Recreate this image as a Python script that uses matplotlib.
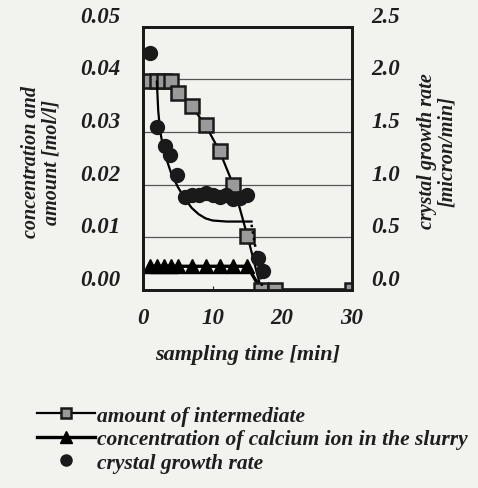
import matplotlib
matplotlib.use('Agg')
import matplotlib.pyplot as plt

plt.rcParams['font.family'] = 'Liberation Serif'
plt.rcParams['font.weight'] = 'bold'
plt.rcParams['font.style'] = 'italic'
plt.rcParams['axes.labelweight'] = 'bold'

# amount of intermediate (left axis, mol/l)
t_inter = [1, 2, 3, 4, 5, 7, 9, 11, 13, 15, 17, 19, 30]
amount_inter = [0.0397, 0.0397, 0.0397, 0.0397, 0.0374, 0.0349, 0.0313,
                0.0264, 0.0199, 0.0103, 0.0, 0.0, 0.0]

# calcium ion concentration in the slurry (left axis, mol/l)
t_ca = [1, 2, 3, 4, 5, 7, 9, 11, 13, 15, 17, 19, 30]
conc_ca = [0.0045, 0.0045, 0.0045, 0.0045, 0.0045, 0.0045, 0.0045, 0.0045,
           0.0045, 0.0045, 0.0, 0.0, 0.0]

# crystal growth rate (right axis, micron/min)
t_growth = [1, 2, 3.2, 3.9, 4.9, 6, 7, 8, 9, 10, 11, 12, 13, 14, 15, 16.5, 17.3]
growth = [2.25, 1.55, 1.37, 1.28, 1.09, 0.88, 0.90, 0.90, 0.92, 0.90, 0.88,
          0.90, 0.86, 0.87, 0.90, 0.30, 0.18]

# fitted curve for the growth rate
t_fit = [2.0, 2.2, 2.5, 3, 4, 5, 6, 7, 8, 9, 10, 12, 14, 15.6]
growth_fit = [1.98, 1.70, 1.50, 1.32, 1.12, 0.98, 0.87, 0.78, 0.72, 0.68,
              0.66, 0.65, 0.65, 0.65]
t_fit_tail = [15.6, 17.2]
growth_fit_tail = [0.62, 0.0]

text_col = '#1e1e1e'
bg = '#f2f2ef'
font = dict(family='Liberation Serif', weight='bold', style='italic')

fig = plt.figure(figsize=(4.78, 4.89), dpi=100, facecolor=bg)
ax = fig.add_axes([0.299, 0.405, 0.437, 0.538])
ax.set_facecolor(bg)
ax2 = ax.twinx()

ax.set_xlim(0, 30)
ax.set_ylim(0, 0.05)
ax2.set_ylim(0, 2.5)
ax.set_xticks([0, 10, 20, 30])
ax.set_yticks([0, 0.01, 0.02, 0.03, 0.04, 0.05])
ax.set_yticklabels(['0.00', '0.01', '0.02', '0.03', '0.04', '0.05'])
ax2.set_yticks([0, 0.5, 1.0, 1.5, 2.0, 2.5])
ax2.set_yticklabels(['0.0', '0.5', '1.0', '1.5', '2.0', '2.5'])

for y in [0.01, 0.02, 0.03, 0.04]:
    ax.axhline(y, color='#555555', lw=0.9, zorder=0)

l_inter, = ax.plot(t_inter, amount_inter, '-s', color='black', lw=1.6,
                   ms=9.5, mfc='#9a9a9a', mec='#1a1a1a', mew=1.8, zorder=4)
l_ca, = ax.plot(t_ca, conc_ca, '-^', color='black', lw=2.4, ms=10,
                mfc='black', mec='black', zorder=3)
ax2.plot(t_fit, growth_fit, '-', color='black', lw=1.6)
ax2.plot(t_fit_tail, growth_fit_tail, ':', color='black', lw=1.8)
l_growth, = ax2.plot(t_growth, growth, 'o', color='#1a1a1a', ms=10)

for a in (ax, ax2):
    for s in a.spines.values():
        s.set_linewidth(2)
        s.set_color('#1a1a1a')
ax.tick_params(axis='x', direction='in', length=3, pad=12, colors=text_col)
ax.tick_params(axis='y', length=0, pad=16, colors=text_col)
ax2.tick_params(axis='y', length=0, pad=14, colors=text_col)
for lab in ax.get_yticklabels() + ax2.get_yticklabels() + ax.get_xticklabels():
    lab.set(fontsize=16.5, **font)
for lab in ax.get_yticklabels() + ax2.get_yticklabels():
    lab.set_va('bottom')

ax.set_xlabel('sampling time [min]', fontsize=16, color=text_col,
              labelpad=12, **font)
ax.set_ylabel('concentration and\namount [mol/l]', fontsize=14.5,
              color=text_col, linespacing=1.0, va='center', **font)
ax.yaxis.set_label_coords(-0.487, 0.49)
ax2.set_ylabel('crystal growth rate\n[micron/min]', fontsize=14.5,
               color=text_col, rotation=90, linespacing=1.0, va='center',
               **font)
ax2.yaxis.set_label_coords(1.41, 0.53)

fig.legend([l_inter, l_ca, l_growth],
           ['amount of intermediate',
            'concentration of calcium ion in the slurry',
            'crystal growth rate'],
           loc='upper left', bbox_to_anchor=(0.055, 0.19), frameon=False,
           prop=dict(size=15.5, **font), handlelength=2.7,
           handletextpad=0.1, labelspacing=0.15, borderpad=0,
           labelcolor=text_col, markerscale=0.8)

fig.savefig('out.png', dpi=100, facecolor=bg)
